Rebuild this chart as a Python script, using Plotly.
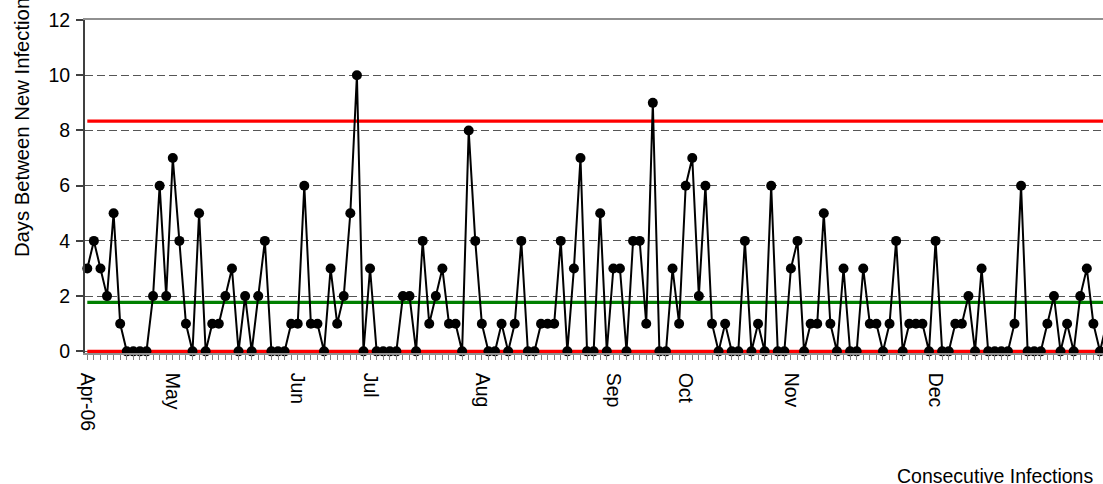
import plotly.graph_objects as go

# ---- data ----
days_between = [3,4,3,2,5,1,0,0,0,0,2,6,2,7,4,1,0,5,0,1,1,2,3,0,2,0,2,4,0,0,0,1,1,6,1,1,0,3,1,
                2,5,10,0,3,0,0,0,0,2,2,0,4,1,2,3,1,1,0,8,4,1,0,0,1,0,1,4,0,0,1,1,1,4,0,3,7,0,
                0,5,0,3,3,0,4,4,1,9,0,0,3,1,6,7,2,6,1,0,1,0,0,4,0,1,0,6,0,0,3,4,0,1,1,5,1,0,
                3,0,0,3,1,1,0,1,4,0,1,1,1,0,4,0,0,1,1,2,0,3,0,0,0,0,1,6,0,0,0,1,2,0,1,0,2,3,1,0,1]
month_labels = ["Apr-06", "May", "Jun", "Jul", "Aug", "Sep", "Oct", "Nov", "Dec"]
month_start_index = [0, 13, 32, 43, 60, 80, 91, 107, 129]
upper_limit = 8.34
center_line = 1.77
lower_limit = 0.0
y_ticks = [0, 2, 4, 6, 8, 10, 12]

n = len(days_between)
x_idx = list(range(n))
label_map = dict(zip(month_start_index, month_labels))
tick_text = [label_map.get(i, "") for i in x_idx]

FONT = "Liberation Sans, Arial, sans-serif"
FS = 19.5

fig = go.Figure()
fig.add_trace(go.Scatter(x=x_idx, y=[upper_limit] * n, mode="lines",
                         line=dict(color="#FF0000", width=3.3), hoverinfo="skip"))
fig.add_trace(go.Scatter(x=x_idx, y=[center_line] * n, mode="lines",
                         line=dict(color="#008000", width=3.3), hoverinfo="skip"))
fig.add_trace(go.Scatter(x=x_idx, y=[lower_limit] * n, mode="lines",
                         line=dict(color="#FF0000", width=3.3), hoverinfo="skip"))
fig.add_trace(go.Scatter(x=x_idx, y=days_between, mode="lines+markers",
                         line=dict(color="black", width=2),
                         marker=dict(color="black", size=10),
                         cliponaxis=False))

fig.update_layout(
    width=1103, height=484,
    margin=dict(l=85, r=0, t=20, b=131.35),
    paper_bgcolor="white", plot_bgcolor="white",
    showlegend=False,
    font=dict(family=FONT, size=FS, color="black"),
    xaxis=dict(
        range=[-0.35, 154.46],
        tickmode="array", tickvals=x_idx, ticktext=tick_text,
        tickangle=90, ticks="outside", ticklen=5, tickcolor="#808080", tickwidth=1,
        ticklabelstandoff=9,
        showgrid=False, zeroline=False,
        showline=True, linecolor="#909090", linewidth=1.5, mirror=True,
        tickfont=dict(family=FONT, size=FS, color="black"),
    ),
    yaxis=dict(
        range=[-0.06, 12], tickmode="array", tickvals=y_ticks,
        ticks="outside", ticklen=7, tickcolor="#404040", tickwidth=1.5,
        ticklabelstandoff=2,
        showgrid=True, gridcolor="#555555", gridwidth=1, griddash="8px,4px",
        zeroline=False,
        showline=True, linecolor="#404040", linewidth=2,
        tickfont=dict(family=FONT, size=FS, color="black"),
    ),
    annotations=[
        dict(text="Days Between New Infections", xref="paper", yref="paper",
             x=-0.062, y=0.693, xanchor="center", yanchor="middle",
             textangle=-90, showarrow=False,
             font=dict(family=FONT, size=20.3, color="black")),
        dict(text="Consecutive Infections", xref="paper", yref="paper",
             x=0.992, y=-0.37, xanchor="right", yanchor="middle",
             showarrow=False,
             font=dict(family=FONT, size=FS, color="black")),
    ],
)

fig.write_html("out.html", config={"displayModeBar": False},
               post_script="document.body.style.margin='0';")
